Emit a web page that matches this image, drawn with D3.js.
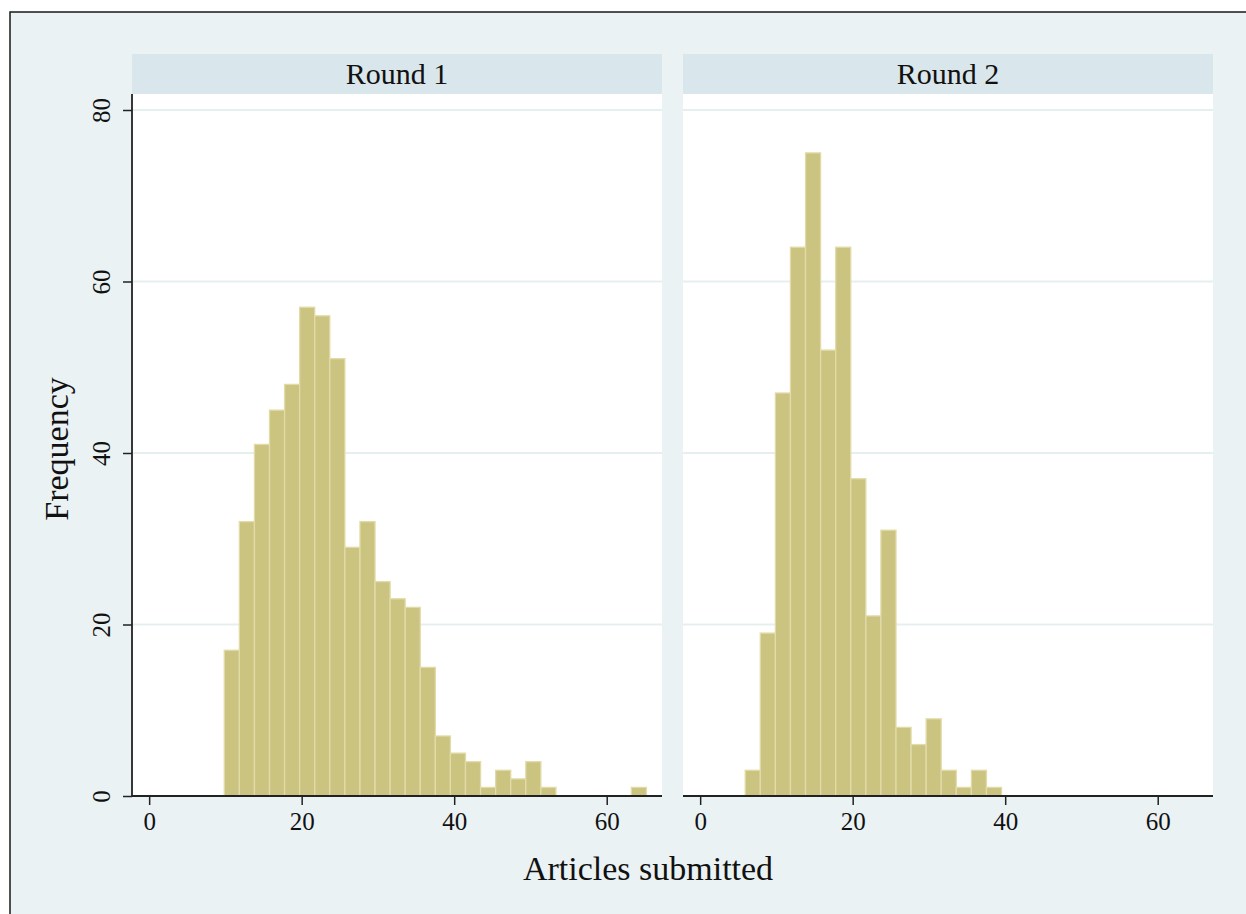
<!DOCTYPE html>
<html>
<head>
<meta charset="utf-8">
<script src="https://cdn.jsdelivr.net/npm/d3@7/dist/d3.min.js"></script>
<style>
  html, body { margin: 0; padding: 0; background: #ffffff; }
  svg { display: block; }
  text { font-family: "Liberation Serif", "Times New Roman", serif; fill: #111; }
</style>
</head>
<body>
<svg id="chart" width="1246" height="914"></svg>
<script>
// ---------------- data ----------------
const panels = ["Round 1", "Round 2"];
const round1Counts = [17, 32, 41, 45, 48, 57, 56, 51, 29, 32, 25, 23, 22, 15, 7, 5, 4, 1, 3, 2, 4, 1, 0, 0, 0, 0, 0, 1];
const round2Counts = [3, 19, 47, 64, 75, 52, 64, 37, 21, 31, 8, 6, 9, 3, 1, 3, 1];
const round1BinStart = 9.85;
const round2BinStart = 5.91;
const binWidth = 1.977;
const xTicks = [0, 20, 40, 60];
const yTicks = [0, 20, 40, 60, 80];
const xTitle = "Articles submitted";
const yTitle = "Frequency";

// ---------------- layout ----------------
const svg = d3.select("#chart");
const W = 1246, H = 914;
const plotTop = 94, plotBottom = 796;
const panelX = [[132, 662], [683, 1213]];
const stripTop = 54;

const y = d3.scaleLinear().domain([0, 80]).range([plotBottom, 110]);
const xDomain = [-2.25, 67.25];

// outer frame
svg.append("rect").attr("x", 10).attr("y", 12).attr("width", W + 20).attr("height", H + 20)
  .attr("fill", "#eaf2f3").attr("stroke", "#1a1a1a").attr("stroke-width", 1.5);

const datasets = [
  { counts: round1Counts, start: round1BinStart },
  { counts: round2Counts, start: round2BinStart }
];

panels.forEach((name, i) => {
  const [x0, x1] = panelX[i];
  const x = d3.scaleLinear().domain(xDomain).range([x0, x1]);
  const g = svg.append("g");

  // strip
  g.append("rect").attr("x", x0).attr("y", stripTop).attr("width", x1 - x0).attr("height", plotTop - stripTop)
    .attr("fill", "#d9e6eb");
  g.append("text").attr("x", (x0 + x1) / 2).attr("y", 84).attr("text-anchor", "middle")
    .style("font-size", "30px").text(name);

  // plot area
  g.append("rect").attr("x", x0).attr("y", plotTop).attr("width", x1 - x0).attr("height", plotBottom - plotTop)
    .attr("fill", "#ffffff");

  // gridlines
  g.selectAll("line.grid").data(yTicks.filter(d => d > 0)).enter().append("line")
    .attr("x1", x0).attr("x2", x1).attr("y1", d => y(d)).attr("y2", d => y(d))
    .attr("stroke", "#e6eff0").attr("stroke-width", 2);

  // bars
  const ds = datasets[i];
  const bins = ds.counts.map((c, k) => ({ x0: ds.start + k * binWidth, x1: ds.start + (k + 1) * binWidth, c }))
    .filter(b => b.c > 0);
  g.selectAll("rect.bar").data(bins).enter().append("rect")
    .attr("x", b => x(b.x0)).attr("width", b => x(b.x1) - x(b.x0))
    .attr("y", b => y(b.c)).attr("height", b => y(0) - y(b.c))
    .attr("fill", "#cbc380").attr("stroke", "#e2dba8").attr("stroke-width", 1.3);

  // x axis
  const xAxis = d3.axisBottom(x).tickValues(xTicks).tickSize(9).tickPadding(4).tickFormat(d3.format("d"));
  const ax = g.append("g").attr("transform", `translate(0,${plotBottom})`).call(xAxis);
  ax.select(".domain").remove();
  ax.selectAll(".tick line").attr("stroke", "#222").attr("stroke-width", 1.5);
  ax.selectAll(".tick text").style("font-size", "25px").style("font-family", "Liberation Serif, serif").attr("fill", "#111").attr("dy", "0.85em");
  g.append("line").attr("x1", x0).attr("x2", x1).attr("y1", plotBottom).attr("y2", plotBottom)
    .attr("stroke", "#222").attr("stroke-width", 1.8);

  if (i === 0) {
    const yAxis = d3.axisLeft(y).tickValues(yTicks).tickSize(9).tickPadding(4).tickFormat(d3.format("d"));
    const ay = g.append("g").attr("transform", `translate(${x0},0)`).call(yAxis);
    ay.select(".domain").remove();
    ay.selectAll(".tick line").attr("stroke", "#222").attr("stroke-width", 1.5);
    ay.selectAll(".tick text")
      .style("font-size", "25px").style("font-family", "Liberation Serif, serif").attr("fill", "#111")
      .attr("text-anchor", "middle").attr("x", 0).attr("dy", 0)
      .attr("transform", "translate(-22,0) rotate(-90)");
    g.append("line").attr("x1", x0).attr("x2", x0).attr("y1", plotTop).attr("y2", plotBottom)
      .attr("stroke", "#222").attr("stroke-width", 1.8);
  }
});

// axis titles
svg.append("text").attr("x", 648).attr("y", 880).attr("text-anchor", "middle")
  .style("font-size", "34px").text(xTitle);
svg.append("text").attr("transform", "translate(68,449) rotate(-90)").attr("text-anchor", "middle")
  .style("font-size", "34px").text(yTitle);
</script>
</body>
</html>
